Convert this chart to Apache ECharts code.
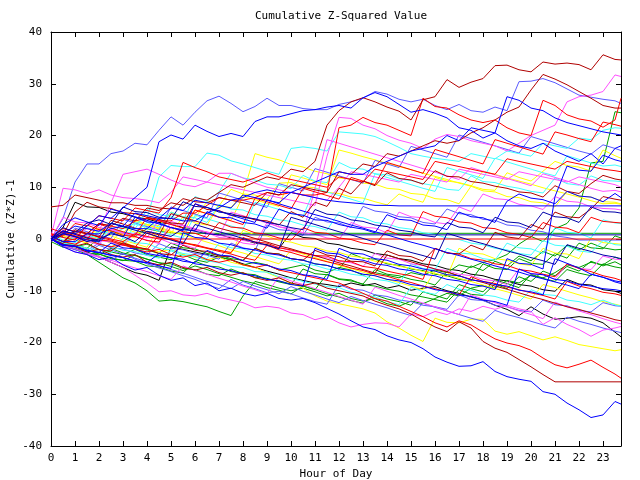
<!DOCTYPE html>
<html><head><meta charset="utf-8">
<script src="https://cdn.jsdelivr.net/npm/echarts@6/dist/echarts.min.js"></script>
<style>html,body{margin:0;padding:0;background:#fff}#c{width:640px;height:480px}</style>
</head><body><div id="c"></div>
<script>
// x positions (hour of day) shared by every series
const HOURS = [0,0.5,1,1.5,2,2.5,3,3.5,4,4.5,5,5.5,6,6.5,7,7.5,8,8.5,9,9.5,10,10.5,11,11.5,12,12.5,13,13.5,14,14.5,15,15.5,16,16.5,17,17.5,18,18.5,19,19.5,20,20.5,21,21.5,22,22.5,23,23.5,23.75];

// cumulative (z*z)-1 values per series
const s01 = [0.5,-0.5,1.5,1,3,2.5,4,3.5,6,5.5,7,6.5,8,7.5,9,10.5,10,11,12,11.5,13.5,13,15,22,24.8,26.5,27.3,26.5,25.5,24.7,23,26.9,27.5,30.8,29.3,30.3,31,33.5,33.6,32.7,32.3,34.2,33.8,34,33.7,32.7,35.6,34.7,34.6];
const s02 = [0,4,11,14.5,14.5,16.5,17,18.5,18.2,21,23.6,22,24.5,26.7,27.6,26.2,24.6,25.6,27.2,25.8,25.8,25.2,25,25,26,26.5,27.2,28.5,28,27,26.5,27,25.8,25,26,24.8,24.5,25.5,24.8,30.4,30.5,31,30.2,29,27.8,27.4,27,26.7,26.2];
const s03 = [0,1.5,1,2.5,4.5,4,6,8,10,18.8,20.1,19.3,22,20.8,19.8,20.4,19.8,22.7,23.6,23.6,24.2,24.8,25,25.5,25.8,25.3,27.3,28.3,27.5,26,24.5,25,24.3,23.4,21.5,21,19.5,20.5,19,18,17.5,18.5,17,16,15,16.5,14.5,17.5,18];
const s04 = [0.5,-0.5,-0.5,1,1,2,2.5,2,2,4,4,3.5,3.5,5,6,7.5,8,9,9.5,9,9,10,11,12,13,12.5,12.5,14,15,16,17,17.5,18,20,19,21.5,21,20.5,27.5,26.8,25.3,24.8,23.4,22.5,21.9,21.3,20.7,20.3,20.1];
const s05 = [0.5,2,1.5,1,3,2.5,2,3.5,4,3.5,3.5,5,5,6.5,8,7.5,7.5,8,9,8.5,9,8.5,8.5,9,21.5,22,23.5,22.5,22,21,20,27.2,25.6,25.3,24,23,22.5,23,21.5,20.5,20,26.8,25.8,24,23.2,22.8,21.6,23,27.2];
const s06 = [0.5,9.8,9.5,8.8,9.5,8.5,8,7.8,7.5,7,9,12,11.5,11,10.5,10,9.5,9,8.5,8,7.5,7,6.5,16,23.5,23.3,22,21.3,20,19.1,18.5,17.5,19.3,20.2,19.8,19,18.5,18,17,18.5,20,21,22,26.5,27.5,27.8,28.5,31.7,31.4];
const s07 = [0,1,0.5,2,1.5,7,12.5,13,13.5,12.5,11.4,10.5,10.1,11,12.7,12.7,11.8,10.8,10,9.5,9,8.5,8,7.5,10,13,12.5,12,11.5,11,12.5,12,11.5,11,13.5,13,12.5,12,11.5,13,12.5,12,11.5,11,12,11.5,11,10.5,10];
const s08 = [0,-0.5,0.5,0,1.5,1,2,3,4,12,14.2,14,14,16.6,16.2,15.1,14.5,13.8,13.1,12.5,17.5,17.8,17.5,17,20.7,20.5,20.3,19.8,18.8,17.7,16.5,16,15.6,15.3,15,16.5,16,15.5,17,16.5,16,18.5,18,17.5,19.5,19.2,21,21.5,21.4];
const s09 = [6.2,6.5,8.5,8,7.5,7,7,6.5,6.5,6,5.8,7.8,7.2,7,8,7.5,7,6.5,9,8.5,10.5,10,9.5,9,13,12.5,14.5,14,16.5,16,17,18,19,18.5,19,20.5,21.5,23,24.5,25.5,28.8,31.8,30.9,29.8,28.5,27.2,25.8,25.3,25.3];
const s10 = [0,-1,-1.5,-1,-2,-2.5,-3,-2,-3,-3.5,-4,-3,-4,-4.5,-3.5,-4,-5,-4.5,-5,-6,-5.5,-5,-6,-6.5,-5.5,-6,-7,-6.5,-7,-7.5,-6.5,-7,-6,-6.5,-5,-5.5,-4.5,-4,-3,-1,0.5,-0.5,2,3,6,14.7,15,24.6,24.4];
const s11 = [0,1,2.5,2,1.5,3,2.5,5,4.5,4,6,5.5,7.5,7,6.5,6,8.5,8,7.5,7,9,8.5,8,7.5,7.2,7,6.8,6.5,6.5,6.4,6.4,6.4,6.4,6.4,6.4,6.4,6.4,6.4,6.4,6.4,6.4,6.4,6.4,6.4,6.4,6.4,6.4,6.4,6.4];
const s12 = [0,-0.5,0.5,0,-0.5,1.5,1,0.5,2,1.5,1.2,1.1,1.1,1.1,1.1,1.1,1.1,1.1,1.1,1.1,1.1,1.1,1.1,1.1,1.1,1.1,1.1,1.1,1.1,1.1,1.1,1.1,1.1,1.1,1.1,1.1,1.1,1.1,1.1,1.1,1.1,1.1,1.1,1.1,1.1,1.1,1.1,1.1,1.1];
const s13 = [0,1,0.5,-0.5,0,1,0.5,-0.5,1.5,1,0.5,2,1.5,1,0.8,0.8,0.8,0.8,0.8,0.8,0.8,0.8,0.8,0.8,0.8,0.8,0.8,0.8,0.8,0.8,0.8,0.8,0.8,0.8,0.8,0.8,0.8,0.8,0.8,0.8,0.8,0.8,0.8,0.8,0.8,0.8,0.8,0.8,0.8];
const s14 = [0.5,-0.5,0,1,0.5,0,-0.5,1,0.5,0,0,0,0,0,0,0,0,0,0,0,0,0,0,0,0,0,0,0,0,0,0,0,0,0,0,0,0,0,0,0,0,0,0,0,0,0,0,0,0];
const s16 = [0,-1.5,-2.5,-3,-4,-3.5,-5,-6,-5.5,-7,-8,-7.5,-9,-8.5,-10,-9.5,-10.5,-11,-10.5,-11.5,-11.8,-11.5,-12.3,-13.4,-14.5,-15.8,-17,-17.5,-18.7,-19.5,-20,-21.2,-22.8,-23.8,-24.6,-24.5,-23.7,-25.6,-26.6,-27.1,-27.5,-29.5,-30,-31.7,-33,-34.5,-34,-31.4,-31.9];
const s17 = [0,-1,-1.5,-2.5,-2,-3,-3.5,-3,-4.5,-5,-4.5,-5.5,-6,-5.5,-6.5,-7,-6.5,-7.5,-8,-7.5,-8.5,-9,-8.5,-9.5,-10,-10.5,-11,-12,-12.8,-13.5,-14.5,-15.8,-17,-17.9,-16,-17.2,-19.8,-21.1,-21.9,-23.3,-24.7,-26.2,-27.6,-27.6,-27.6,-27.6,-27.6,-27.6,-27.6];
const s18 = [0.5,-0.5,-1,0,-1,-1.5,-1,-2,-2.5,-2,-3,-3.5,-3,-4,-4.5,-4,-5,-5.5,-5,-6,-6.5,-7,-7.5,-8,-8.5,-9.5,-10.5,-11.5,-12,-13,-14,-15,-16.2,-17,-15.8,-16.6,-18,-19.3,-20.1,-20.6,-21.5,-23,-24.3,-24.9,-24.2,-23.4,-24.8,-26.1,-26.9];
const s19 = [0,-0.5,0.5,-0.5,-1,-1.5,-0.5,-1.5,-2,-2.5,-2,-3,-3.5,-4,-3.5,-4.5,-5,-5.5,-6.5,-7.5,-8.5,-9.5,-11,-12,-12.5,-13,-13.5,-14.3,-16,-17.2,-18.6,-19.8,-15.3,-16.1,-16.2,-15.5,-15.5,-17.8,-18.4,-17.9,-18.7,-19.5,-18.9,-19.6,-20.4,-20.8,-21.2,-21.6,-21.4];
const s20 = [0,-1,-2,-2.5,-3.5,-4.5,-5.5,-6.5,-7,-8,-1.5,-2,-2.5,-3,-3.5,-4,-4.8,-5.5,-6.2,-6.8,-7.5,-8,-8.5,-8.8,-9.2,-8.5,-9,-8.6,-9.5,-9,-9.9,-9.5,-9.2,-10,-10.5,-11.2,-11.8,-12.8,-13.6,-14.8,-13.1,-14.5,-15.5,-15.3,-15,-15.3,-16.2,-18,-18.9];
const s21 = [0,-1.5,-2.5,-3,-3.5,-4.5,-5.5,-7,-8.5,-10.2,-10,-10.8,-11,-10.5,-11.3,-11.8,-12.3,-13.3,-13,-13.3,-14.3,-14.6,-15.6,-15,-16.2,-17,-16.5,-16.2,-16.3,-17,-14.5,-15,-14,-14.6,-13.5,-14,-13,-13.6,-12.8,-13.5,-14,-16.5,-15.2,-16.5,-17.5,-18.8,-17.6,-17.2,-16.9];
const s22 = [0,-1,-2,-3,-4.5,-6,-7.5,-8.5,-10,-12,-11.8,-12.1,-12.6,-13.1,-14,-14.8,-11,-8.2,-8.8,-9.5,-10,-9.5,-10.2,-11,-10.5,-11.5,-12,-11.5,-12.5,-13,-12,-12.5,-11.5,-10.5,-11,-9.5,-9,-9.5,-8,-8.5,-7,-7.5,-6.5,-5,-5.5,-4.5,-5,-3.5,-4];
const s23 = [0,1.3,0.6,0.1,2.2,1.2,0.9,0.2,2.8,1.9,1.1,4.3,3.1,2.7,6.4,9.6,8.7,8.5,7.6,10.8,10.9,10.1,9.9,9.0,8.8,8.1,7.9,7.2,6.6,8.7,7.8,7.1,11.9,11.2,10.9,10.3,9.6,9.4,12.8,11.9,11.2,13.1,15.0,14.2,13.9,13.1,17.2,16.1,15.6];
const s24 = [-0.5,0.8,5.2,7.1,6.2,5.9,5.1,4.9,4.2,3.8,3.1,2.9,6.8,5.7,5.5,4.6,4.4,3.7,3.5,2.7,5.3,4.2,7.1,6.3,9.8,8.7,11.2,10.3,12.8,11.7,11.4,10.6,13.2,12.1,12.0,11.1,10.8,10.2,9.8,9.1,8.9,8.1,10.3,9.2,8.8,10.7,12.3,11.6,11.4];
const s25 = [0.5,-0.6,0.3,2.2,1.3,3.1,2.2,1.9,5.7,4.7,4.4,3.6,8.2,7.3,9.1,12.7,11.8,11.4,10.6,10.4,9.7,12.3,11.2,10.9,14.8,13.7,13.5,12.6,12.4,11.6,11.3,10.7,10.3,9.6,9.4,12.2,11.1,10.9,10.2,9.8,9.2,8.9,11.8,10.7,10.4,12.2,11.3,11.2,11.1];
const s26 = [-0.5,1.2,0.4,-0.2,-0.6,1.3,0.4,4.2,3.3,3.1,2.2,1.8,1.6,5.3,4.2,4.1,3.2,2.9,2.1,5.8,4.9,4.6,3.7,3.6,2.8,2.3,1.9,1.2,4.7,3.8,3.6,2.7,2.5,1.8,5.2,4.3,4.1,3.2,7.3,8.7,7.9,7.6,6.8,9.2,8.3,8.1,7.2,8.8,8];
const s27 = [0,-1.2,-1.4,-0.8,-2.1,-2.3,-0.7,-1.6,-1.9,-2.8,-3.1,-1.2,-2.2,-2.4,-3.3,-3.4,-4.2,-1.8,-2.7,-2.9,-3.8,-4.1,-2.2,-3.1,-3.4,-4.3,-4.4,-5.2,-2.3,-3.2,-3.4,-4.3,-1.8,-2.7,-2.9,-1.2,-2.1,1.3,0.4,0.1,2.8,1.9,5.2,4.3,4.1,5.8,8.2,7.7,7.5];
const s28 = [1,0.3,-0.2,2.7,1.8,1.6,0.7,0.5,-0.3,-0.6,2.3,1.4,1.1,0.3,3.2,2.3,2.1,1.2,0.9,0.2,-0.2,2.2,1.3,1.1,0.2,-0.1,-0.8,-1.1,1.7,0.8,0.6,5.3,4.4,4.1,3.3,3.1,2.2,2.0,1.2,0.9,0.3,3.2,2.3,2.1,1.2,4.2,3.4,3.2,3.1];
const s29 = [0,-1.1,-1.3,-2.2,-0.8,-1.7,-1.9,-2.7,-3.1,-0.9,-1.8,-2.1,-2.8,-3.1,-3.9,-0.8,-1.7,-2.2,2.7,1.8,1.6,0.7,4.2,3.3,3.1,2.2,6.3,5.4,5.1,4.3,4.1,3.2,2.9,5.8,4.9,4.7,3.8,3.6,2.7,2.5,1.7,1.4,0.6,0.3,-0.2,-0.2,-0.2,-0.2,-0.2];
const s30 = [-0.5,-1.6,-1.8,-2.7,-2.9,-3.8,-4.1,-4.3,-5.2,-5.4,-6.2,-6.6,-4.3,-5.2,-5.4,-6.3,-6.6,-7.4,-7.6,-8.3,-8.8,-5.8,-6.7,-6.9,-7.8,-8.1,-8.7,-5.9,-6.8,-7.1,-7.8,-8.2,-8.9,-6.3,-7.2,-5.2,-6.1,-4.3,-5.2,-3.3,-4.2,-2.4,-3.3,-1.2,-2.1,-0.8,-1.7,-2.1,-2];
const s31 = [0,-1.2,-1.4,-2.3,-2.6,-0.8,-1.7,-1.9,-2.8,-3.2,-3.6,-4.3,-4.6,-2.2,-3.1,-3.3,-4.2,-4.7,-5.1,-5.8,-6.1,-6.9,-7.2,-7.8,-1.8,-2.7,-2.9,-3.8,-4.1,-4.9,-5.2,-5.8,-6.2,-6.9,-7.1,-7.9,-8.2,-8.8,-9.1,-9.9,-10.2,-10.8,-3.8,-4.7,-5.6,-6.8,-7.4,-8.3,-8.6];
const s32 = [0.5,-0.2,-0.7,0.2,-1.1,-1.4,-2.2,-2.4,-3.2,-3.7,-2.3,-3.2,-3.4,-4.2,-4.6,-5.3,-5.5,-6.3,-6.4,-7.3,-7.6,-8.2,-8.7,-9.2,-9.4,-10.3,-10.6,-11.2,-12.1,-12.7,-9.3,-10.2,-10.7,-8.8,-9.7,-9.9,-10.8,-11.1,-11.8,-12.2,-9.8,-10.7,-10.9,-11.8,-12.1,-12.7,-11.8,-12.7,-13];
const s33 = [2,1.2,1.1,0.3,-0.2,-0.4,-1.2,-1.6,1.2,0.3,0.1,-0.8,-1.1,-1.7,-2.2,-2.6,0.3,-0.6,-0.8,-1.7,-2.1,-2.7,-3.2,-3.3,-4.2,-4.4,-5.3,-5.6,-6.2,-6.7,-7.1,-7.8,-1.8,-2.7,-2.9,-3.8,-4.1,-4.8,-5.1,-5.9,-6.2,-6.8,-7.3,-4.8,-5.7,-6.3,-7.1,-7.6,-8];
const s34 = [0,-1.1,-1.9,-2.7,-3.1,-1.8,-2.7,-3.2,-3.9,-4.6,-4.8,-5.7,-5.9,-6.8,-7.1,-5.8,-6.7,-6.9,-7.8,-8.1,-8.7,-9.1,-9.8,-6.8,-7.7,-7.9,-8.8,-9.1,-9.7,-10.1,-10.8,-11.2,-11.7,-12.2,-9.8,-10.7,-10.9,-8.7,-9.6,-7.3,-8.2,-6.2,-7.1,-5.3,-6.2,-4.3,-5.2,-4.4,-5];
const s35 = [0,2.2,1.3,3.1,3.7,2.8,6.2,5.3,5.1,4.2,3.9,7.2,6.3,6.1,5.2,4.9,4.2,3.9,3.2,2.8,2.2,1.8,5.7,4.8,4.6,3.7,3.4,2.7,2.4,1.7,1.4,0.7,0.4,3.2,2.3,2.1,1.2,4.2,3.3,3.1,2.2,5.2,4.3,4.1,3.2,6.2,5.3,5.2,5];
const s36 = [0,-0.7,1.2,0.3,0.1,-0.8,2.2,1.3,1.1,0.2,-0.1,-0.8,-1.1,-1.8,-2.1,-2.8,1.7,0.8,0.6,-0.3,-0.6,-1.3,-1.6,-2.3,-2.6,-3.3,-3.6,-4.3,-4.6,-5.3,-5.6,-6.3,-6.6,-7.3,-1.8,-2.7,-2.9,-3.8,-4.1,-4.8,-5.1,-1.8,-2.7,-2.9,-3.8,0.2,-0.7,-0.9,-1];
const s37 = [0,4.2,3.3,3.1,2.2,1.9,1.2,0.9,0.2,3.7,2.8,2.6,1.7,1.4,0.7,0.4,-0.3,-0.6,-1.3,-1.6,-2.3,-2.6,-3.3,-3.6,-4.3,-4.6,-5.3,-2.8,-3.7,-3.9,-4.8,-5.1,-5.8,-6.1,-6.8,-7.1,-7.8,-8.1,-8.8,-5.8,-6.7,-6.9,-7.8,-4.8,-5.7,-5.9,-3.3,-3.9,-4];
const s38 = [0,-1.2,-1.4,-2.3,-2.6,-3.2,-3.6,-4.3,-4.6,-5.2,-5.7,1.2,0.3,0.1,-0.8,-1.1,-1.8,-2.1,-2.8,-3.1,-3.8,-4.1,-4.8,-5.1,-5.8,-6.1,-6.8,-7.1,-7.8,-8.1,-8.8,-9.1,-9.8,-10.1,-10.8,-11.1,-11.8,-12.1,-12.8,-5.8,-6.7,-6.9,-7.8,-8.1,-8.8,-9.1,-9.6,-9.8,-10];
const s39 = [0,-0.8,-1.1,-1.8,-2.1,-2.8,0.2,-0.7,-0.9,-1.8,-2.1,-2.8,-3.1,-3.8,-0.8,-1.7,-1.9,-2.8,-3.1,-3.8,-4.1,-4.8,-5.1,-5.8,-6.1,-6.8,-7.1,-7.8,-8.1,-8.8,-4.8,-5.7,-5.9,-1.8,-2.7,-2.9,-3.8,-4.1,-0.8,-1.7,-1.9,-2.8,2.2,1.3,1.1,0.2,3.7,3.1,3];
const s40 = [0,2.2,7.1,6.2,6.1,5.2,4.9,4.2,3.9,3.2,2.9,2.2,1.9,1.2,0.9,0.2,-0.1,-0.8,-1.1,-1.8,1.2,0.3,0.1,-0.8,-1.1,-1.8,-2.1,-2.8,-3.1,-3.8,-4.1,-4.8,-5.1,-5.8,-6.1,-6.8,-7.1,-7.8,-8.1,-8.8,-9.1,-9.8,-10.1,-7.8,-8.7,-8.9,-9.8,-10.1,-10.5];
const s41 = [1,0.5,3,2.5,4.5,4,3.5,6,5.5,5,8,14.8,13.8,13,12,11.5,11,11.8,12.8,12,11.5,11,10.5,10,12,11.5,11,13.5,13,12.5,12,11.5,15,14.5,14,13.5,13,12.5,15.5,15,14.5,14,13.5,15,14.5,14,13.5,13.2,13];
const s42 = [0,0.3,-0.2,0.4,-0.4,2.2,1.3,1.1,3.2,2.3,5.2,4.3,4.1,3.2,6.7,5.8,5.6,4.7,4.4,3.7,3.4,2.7,2.4,1.7,5.2,4.3,4.1,3.2,2.9,2.2,1.9,1.2,0.9,0.2,-0.1,-0.8,-1.1,-1.8,-2.1,-2.8,-3.1,-0.3,-1.2,-1.4,-2.3,-2.6,-0.3,-1.1,-1.2];
const s43 = [0,-1.2,-1.9,-2.7,-3.4,-4.1,-2.8,-3.9,-4.8,-5.6,-6.3,-7.1,-7.8,-8.8,-9.6,-7.8,-8.9,-9.6,-10.4,-10.1,-10.6,-11.4,-12.1,-12.6,-8.8,-9.7,-9.9,-10.8,-11.1,-11.8,-12.1,-12.8,-13.1,-13.6,-10.8,-11.7,-11.9,-12.8,-13.1,-13.8,-14.1,-11.8,-12.7,-12.9,-13.8,-14.1,-12.3,-12.9,-13];
const s44 = [0,-0.7,-1.1,-1.8,0.2,-0.7,-0.9,-1.8,-2.1,-2.8,-0.8,-1.7,-1.9,-2.8,-3.1,-3.8,-4.1,-1.8,-2.7,-2.9,-3.8,-4.1,-4.8,-5.1,-5.8,-2.8,-3.7,-3.9,-4.8,-5.1,-5.8,-6.1,-6.8,-7.1,-7.8,-8.1,-4.8,-5.7,-5.9,-3.8,-4.7,-4.9,-2.8,-3.7,-0.8,-1.7,-1.9,0.6,0.2];
const s45 = [0,1.2,0.3,0.1,2.2,1.3,1.1,3.7,2.8,2.6,5.2,4.3,4.1,7.2,6.3,6.1,8.7,16.5,15.8,15.3,14.4,13.9,13.1,12.6,11.8,11.6,10.8,10.6,9.8,9.6,8.8,8.6,7.8,7.6,6.8,10.2,9.3,9.1,8.2,8.0,7.2,7.0,6.2,9.2,8.3,8.1,7.2,7.1,6.8];
const s46 = [0,1.7,0.8,0.6,-0.3,-0.6,-1.3,1.2,0.3,0.1,-0.8,-1.1,-1.8,1.2,0.3,0.1,-0.8,-1.1,3.2,2.3,2.1,1.2,0.9,0.2,-0.1,3.2,2.3,2.1,1.2,5.2,4.3,4.1,3.2,2.9,6.2,5.3,8.7,7.8,7.6,6.7,6.4,5.7,8.2,7.3,7.1,6.2,5.9,5.8,5.6];
const s47 = [0,-1.1,-1.4,-2.2,-2.6,-3.1,-3.6,-4.2,-4.6,-2.8,-3.7,-3.9,-4.8,-5.1,-5.8,-6.1,-6.8,-7.1,-7.8,-8.1,-8.8,-9.1,-1.8,-2.7,-2.9,-3.8,-4.1,-4.8,-5.1,-5.8,-6.1,-6.8,-7.1,-7.8,-8.1,-8.8,-9.1,-9.8,-3.8,-4.7,-4.9,-5.8,8.2,14.1,13.3,13.1,16.2,15.3,15];
const s48 = [0,-1.1,-1.3,1.2,0.3,-0.2,-0.9,-1.4,-2.1,0.8,-0.1,-0.6,-1.3,-1.8,-2.4,-2.9,-3.6,-4.1,-1.2,-2.1,-2.6,-3.3,-3.8,-4.4,-4.9,-5.6,-6.1,-6.8,-7.2,-7.9,-8.4,-9.1,-9.6,-10.2,-10.8,-7.3,-8.2,-8.6,-9.3,-9.8,-10.4,-10.9,-11.6,-8.2,-9.1,-9.6,-10.3,-10.6,-10.9];
const s49 = [0,-1.3,-2.1,-2.6,-1.2,-2.1,-2.9,-3.7,-4.4,-5.1,-5.9,-6.6,-7.4,-8.2,-8.8,-9.6,-8.2,-9.1,-9.8,-10.6,-9.2,-10.1,-10.8,-11.6,-12.3,-11.1,-11.9,-12.6,-13.3,-14.1,-14.8,-12.4,-13.2,-13.9,-14.6,-15.3,-15.9,-13.8,-14.6,-15.2,-15.9,-16.6,-17.2,-15.1,-15.9,-16.5,-17.2,-17.8,-18.1];
const s50 = [0,-0.6,-1.4,-2.1,-2.9,-3.6,-4.2,-3.1,-3.9,-4.6,-5.3,-6.1,-5.2,-5.9,-6.7,-7.4,-8.1,-8.6,-9.4,-9.9,-10.6,-9.1,-9.8,-10.6,-11.2,-11.9,-12.4,-10.8,-11.6,-12.1,-12.8,-10.2,-10.9,-11.6,-8.8,-9.6,-10.2,-7.9,-8.6,-9.4,-6.8,-7.6,-8.2,-5.9,-6.6,-7.1,-4.8,-5.4,-5.6];
const s51 = [0,2.8,4.1,3.3,2.6,5.8,5.1,4.3,3.6,2.9,2.2,1.6,6.8,6.1,5.4,4.6,3.9,3.2,7.6,6.8,6.1,5.4,4.7,4.1,3.4,2.7,2.1,1.4,0.8,0.1,-0.6,-1.2,-1.9,-2.6,-3.2,-3.9,-4.5,-5.2,-5.8,-6.4,-7.1,-7.7,-8.3,-8.9,-9.6,-6.8,-7.4,-8.1,-8.3];
const s52 = [0,0.8,-0.1,-0.8,1.4,0.6,-0.2,-0.9,-1.6,2.3,1.5,0.8,0.1,-0.6,-1.3,-2.1,-2.7,-3.4,-4.1,-4.8,-2.2,-2.9,-3.6,-4.3,-5.1,-5.7,-6.4,-7.1,-7.8,-8.4,-9.1,-9.8,-6.2,-6.9,-7.6,-8.2,-8.9,-9.6,-10.2,-10.9,-11.6,-8.8,-9.4,-10.1,-10.8,-11.4,-12.1,-12.6,-12.9];
const s53 = [0,-0.9,1.8,1.1,0.4,3.6,2.9,2.1,1.4,0.8,4.9,4.2,3.5,2.8,2.1,1.5,0.8,0.1,-0.6,-1.3,-1.9,-2.6,-3.2,-3.9,-4.6,-5.2,-5.9,-6.6,-3.1,-3.8,-4.4,-5.1,-5.8,-6.4,-7.1,-7.8,-8.4,-9.1,-9.7,-10.4,-11.1,-11.7,-12.4,-13.1,-13.6,-14.3,-14.9,-15.6,-15.8];
const s54 = [0,-1.2,-1.9,-2.7,-3.4,-4.1,-4.9,-5.6,-6.3,-7.1,-7.8,-5.2,-6.1,-6.8,-7.6,-8.3,-9.1,-9.8,-10.6,-7.2,-8.1,-8.8,-9.6,-10.3,-11.1,-11.8,-12.6,-9.3,-10.1,-10.9,-11.6,-12.4,-13.1,-13.9,-14.6,-10.8,-11.6,-12.3,-13.1,-13.9,-14.6,-15.4,-12.2,-13.1,-13.9,-14.6,-15.4,-16.1,-16.4];
const s55 = [0,1.6,0.9,0.2,-0.4,3.1,2.4,1.7,1.1,0.4,-0.2,-0.9,2.8,2.1,1.4,0.8,0.1,-0.6,-1.2,-1.9,4.2,3.5,2.8,2.1,1.4,0.8,0.1,-0.6,-1.2,-1.9,-2.6,-3.2,-3.9,1.1,0.4,-0.3,-0.9,-1.6,-2.3,-2.9,-3.6,-4.2,-4.9,-1.1,-1.8,-2.4,-3.1,-3.5,-3.8];
const s56 = [0,1.4,0.6,-0.1,2.9,2.1,1.4,0.7,4.2,3.5,2.8,2.1,5.6,4.9,4.2,3.5,2.8,7.9,7.2,6.5,5.8,9.8,9.1,8.4,7.7,11.9,11.2,10.5,14.8,14.1,13.4,12.7,17.3,16.6,15.9,15.2,14.5,19.2,18.5,17.8,17.1,16.4,20.7,20.1,19.4,18.8,22.6,22.1,21.8];
const s57 = [0,-0.8,2.1,1.4,0.7,0.1,3.8,3.1,2.4,1.7,6.2,5.5,4.8,4.1,8.9,8.2,7.5,6.8,6.1,10.7,10.0,9.3,13.6,12.9,12.2,11.5,10.8,15.2,14.5,13.8,17.9,17.2,16.5,15.8,20.1,19.4,18.7,18.0,17.3,16.6,19.8,19.1,18.4,17.7,17.0,16.4,18.2,17.5,17.1];
const s58 = [0,-0.9,-1.6,0.8,0.1,-0.6,-1.2,2.9,2.2,1.5,0.8,0.2,4.6,3.9,3.2,2.5,1.9,7.1,6.4,5.7,5.0,4.4,9.8,9.1,8.4,7.7,7.0,12.6,11.9,11.2,10.5,9.8,9.2,13.8,13.1,12.4,11.7,15.6,14.9,14.2,13.5,12.8,12.2,16.1,15.4,14.7,14.1,14.3,14.0];
const s59 = [0,0.9,0.2,-0.5,-1.1,1.8,1.1,0.4,-0.2,-0.9,3.4,2.7,2.0,1.3,0.6,5.2,4.5,3.8,3.1,2.4,1.7,1.1,9.8,19.2,18.5,17.8,17.1,16.4,15.7,15.0,14.3,13.6,12.9,12.2,11.5,13.8,13.1,12.4,11.7,11.0,10.3,12.6,11.9,11.2,10.5,9.8,9.2,9.4,9.1];
const s60 = [0,0.6,-0.1,-0.7,1.9,1.2,0.6,3.4,2.7,2.1,1.4,0.8,5.6,4.9,4.3,3.6,8.2,7.6,6.9,6.3,12.4,11.8,11.1,10.5,17.2,16.6,15.9,15.3,14.6,14.0,13.4,12.7,12.1,11.5,10.8,10.2,13.1,12.5,11.8,11.2,10.6,9.9,9.3,8.7,8.1,7.4,6.8,6.9,6.7];

// styles (kept apart from the data): drawing order, each series with its colour key
const C = {blue:'#0000ff', peri:'#5a5aff', navy:'#0000a8', red:'#ff0000', dred:'#b00000', mag:'#ff50ff', cyan:'#40ffff', yel:'#ffff00', grn:'#00a000', blk:'#000000'};
const DRAW = [
  [s40,'blk'],[s20,'blk'],[s44,'grn'],[s34,'grn'],[s30,'grn'],[s22,'grn'],[s10,'grn'],[s12,'grn'],[s50,'grn'],
  [s45,'yel'],[s36,'yel'],[s23,'yel'],[s19,'yel'],[s52,'yel'],[s60,'yel'],
  [s43,'peri'],[s29,'peri'],[s02,'peri'],[s49,'peri'],[s57,'peri'],
  [s39,'cyan'],[s42,'cyan'],[s32,'cyan'],[s25,'cyan'],[s08,'cyan'],[s58,'cyan'],
  [s46,'mag'],[s37,'mag'],[s21,'mag'],[s07,'mag'],[s06,'mag'],[s54,'mag'],[s59,'mag'],
  [s28,'red'],[s33,'red'],[s41,'red'],[s18,'red'],[s14,'red'],[s05,'red'],[s48,'red'],[s56,'red'],
  [s27,'dred'],[s24,'dred'],[s17,'dred'],[s09,'dred'],[s01,'dred'],[s53,'dred'],
  [s26,'blue'],[s31,'blue'],[s38,'blue'],[s47,'blue'],[s16,'blue'],[s11,'blue'],[s04,'blue'],[s03,'blue'],[s51,'blue'],
  [s35,'navy'],[s13,'navy'],[s55,'navy']
];

const FONT = '"DejaVu Sans Mono", monospace';
const txt = {fontFamily: FONT, fontSize: 11, color: '#000', fontWeight: 'normal'};
const frameLine = {show: true, onZero: false, lineStyle: {color: '#000', width: 1}};
const tick = {show: true, inside: true, length: 5, lineStyle: {color: '#000', width: 1}};

const chart = echarts.init(document.getElementById('c'), null, {renderer: 'canvas'});
chart.setOption({
  animation: false,
  backgroundColor: '#fff',
  title: {text: 'Cumulative Z-Squared Value', left: 336, top: 6, textAlign: 'center',
          textStyle: Object.assign({}, txt)},
  grid: {left: 51, right: 19, top: 32, bottom: 34, containLabel: false, outerBoundsMode: 'none'},
  xAxis: [
    {type: 'value', min: 0, max: 23.75, interval: 1, position: 'bottom',
     name: 'Hour of Day', nameLocation: 'middle', nameGap: 22, nameTextStyle: Object.assign({}, txt),
     axisLine: frameLine, axisTick: tick, splitLine: {show: false},
     axisLabel: Object.assign({margin: 7, formatter: v => Number.isInteger(v) ? String(v) : ''}, txt)},
    {type: 'value', min: 0, max: 23.75, interval: 1, position: 'top',
     axisLine: frameLine, axisTick: tick, splitLine: {show: false}, axisLabel: {show: false}}
  ],
  yAxis: [
    {type: 'value', min: -40, max: 40, interval: 10, position: 'left',
     name: 'Cumulative (Z*Z)-1', nameLocation: 'middle', nameGap: 34, nameRotate: 90,
     nameMoveOverlap: false,
     nameTextStyle: Object.assign({}, txt),
     axisLine: frameLine, axisTick: tick, splitLine: {show: false},
     axisLabel: Object.assign({margin: 9}, txt)},
    {type: 'value', min: -40, max: 40, interval: 10, position: 'right',
     axisLine: frameLine, axisTick: tick, splitLine: {show: false}, axisLabel: {show: false}}
  ],
  series: DRAW.map(([vals, key]) => ({
    type: 'line', xAxisIndex: 0, yAxisIndex: 0, symbol: 'none', showSymbol: false,
    silent: true, clip: true,
    lineStyle: {width: 1, color: C[key]}, itemStyle: {color: C[key]},
    emphasis: {disabled: true},
    data: HOURS.slice(0, vals.length).map((h, i) => [h, vals[i]])
  }))
});
</script></body></html>
